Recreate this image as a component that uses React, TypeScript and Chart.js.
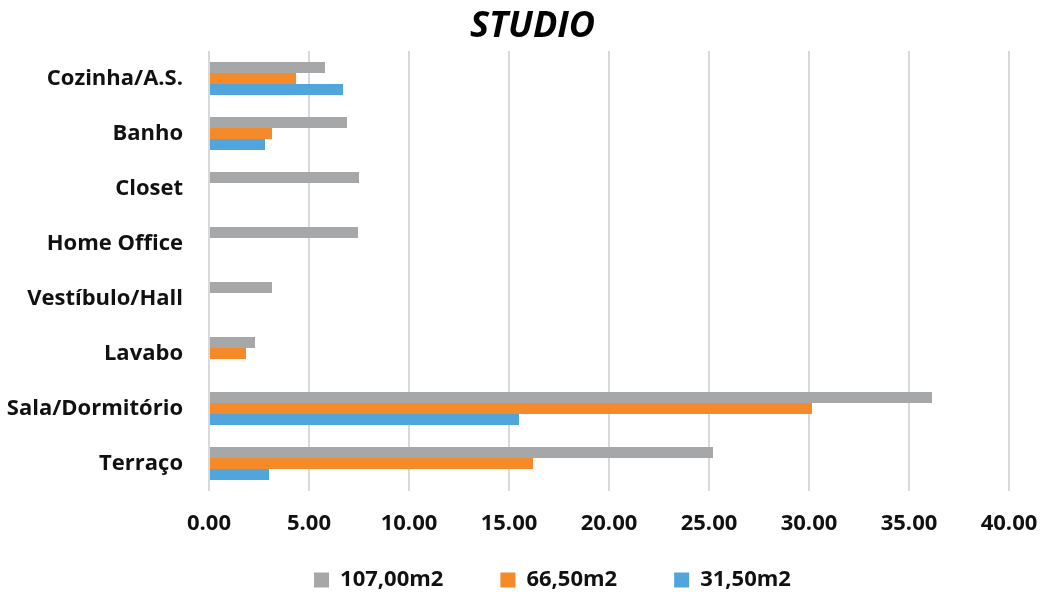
import React, { useEffect, useRef } from 'react';
import { Chart, registerables } from 'chart.js';

Chart.register(...registerables);

const categories = ['Cozinha/A.S.', 'Banho', 'Closet', 'Home Office', 'Vestíbulo/Hall', 'Lavabo', 'Sala/Dormitório', 'Terraço'];
const seriesNames = ['107,00m2', '66,50m2', '31,50m2'];
const values107 = [5.8, 6.9, 7.5, 7.45, 3.15, 2.3, 36.15, 25.2];
const values66 = [4.35, 3.15, null, null, null, 1.85, 30.15, 16.2];
const values31 = [6.7, 2.8, null, null, null, null, 15.5, 3.0];
const xMin = 0;
const xMax = 40;
const xStep = 5;
const seriesColors = ['#A6A7A8', '#F48A2A', '#50A5DC'];

const FONT = "'Open Sans', 'DejaVu Sans', sans-serif";

// Place title and legend boxes horizontally/vertically like the reference.
const boxPlacement = {
  id: 'boxPlacement',
  afterLayout(chart: any) {
    const tb = chart.titleBlock;
    if (tb) {
      tb.left = 56;
    }
    const lg = chart.legend;
    if (lg) {
      lg.left = 96;
      lg.top -= 26;
      lg.bottom -= 26;
    }
  },
};

export default function App() {
  const ref = useRef<HTMLCanvasElement | null>(null);

  useEffect(() => {
    if (!ref.current) return;
    const seriesValues = [values107, values66, values31];
    const chart = new Chart(ref.current, {
      type: 'bar',
      data: {
        labels: categories,
        datasets: seriesNames.map((name, i) => ({
          label: name,
          data: seriesValues[i],
          backgroundColor: seriesColors[i],
          borderWidth: 0,
          barPercentage: 1,
          categoryPercentage: 0.6,
        })),
      },
      options: {
        indexAxis: 'y',
        animation: false,
        responsive: true,
        maintainAspectRatio: false,
        layout: { padding: { left: 0, right: 41, top: 0, bottom: -34 } },
        plugins: {
          title: {
            display: true,
            text: 'STUDIO',
            color: '#000',
            font: { family: FONT, size: 36, weight: 'bold', style: 'italic', lineHeight: 1.2 },
            padding: { top: 5, bottom: 2.8 },
          },
          legend: {
            display: true,
            position: 'bottom',
            labels: {
              color: '#111',
              font: { family: FONT, size: 22, weight: 'bold' },
              boxWidth: 15,
              boxHeight: 15,
              padding: 57,
            },
          },
          tooltip: { enabled: false },
        },
        scales: {
          x: {
            type: 'linear',
            min: xMin,
            max: xMax,
            border: { display: false },
            grid: {
              color: '#D9D9D9',
              lineWidth: 2,
              drawTicks: true,
              tickLength: 20,
              tickColor: 'rgba(0,0,0,0)',
            },
            ticks: {
              stepSize: xStep,
              padding: 0,
              color: '#111',
              font: { family: FONT, size: 22, weight: 'bold' },
              callback: (v: any) => Number(v).toFixed(2),
            },
            afterFit: (scale: any) => {
              scale.height = 47;
            },
          },
          y: {
            type: 'category',
            border: { display: false },
            grid: { display: false, drawTicks: false },
            ticks: {
              autoSkip: false,
              padding: 26,
              color: '#111',
              font: { family: FONT, size: 22, weight: 'bold' },
            },
            afterFit: (scale: any) => {
              scale.width = 209;
            },
          },
        },
      },
      plugins: [boxPlacement],
    });
    return () => chart.destroy();
  }, []);

  return (
    <div style={{ position: 'fixed', left: 0, top: 0, width: 1050, height: 593, background: '#fff' }}>
      <canvas ref={ref} style={{ display: 'block' }} />
    </div>
  );
}
